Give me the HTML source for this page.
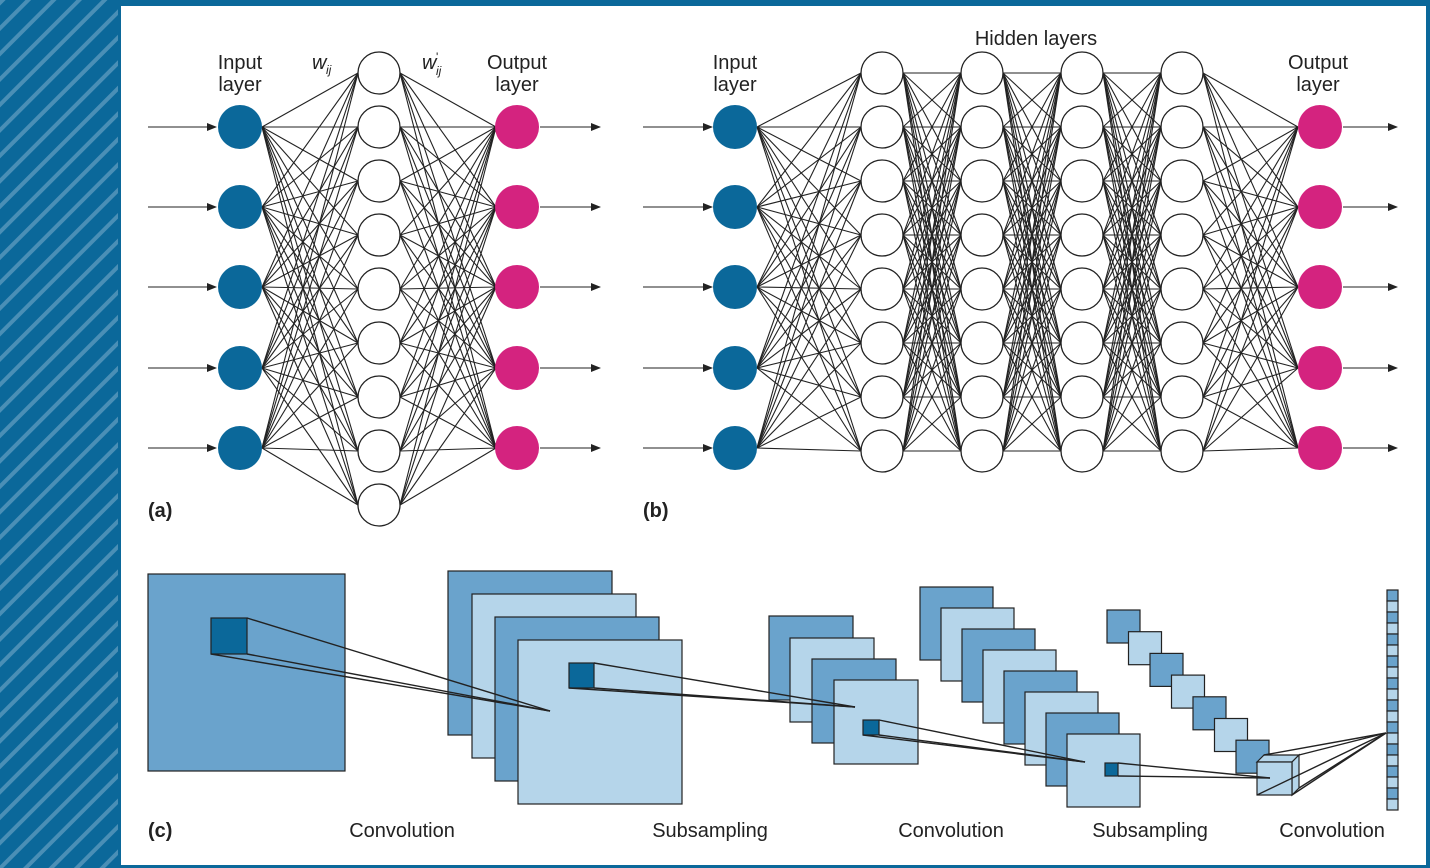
<!DOCTYPE html>
<html><head><meta charset="utf-8"><style>
html,body{margin:0;padding:0;background:#fff;}
svg{display:block;}
text{font-family:"Liberation Sans",sans-serif;fill:#222;}
</style></head><body>
<svg id="s" width="1430" height="868" viewBox="0 0 1430 868" xmlns="http://www.w3.org/2000/svg">
<defs>
<pattern id="st" patternUnits="userSpaceOnUse" width="18" height="18" patternTransform="rotate(45)">
<rect width="18" height="18" fill="#0b689a"/><rect width="4" height="18" fill="#4a8fb6"/>
</pattern>
<marker id="ar" markerWidth="10" markerHeight="8" refX="9" refY="4" orient="auto" markerUnits="userSpaceOnUse"><path d="M0,0 L10,4 L0,8 z" fill="#222"/></marker>
</defs>
<rect x="0" y="0" width="1430" height="868" fill="#0b689a"/>
<rect x="0" y="0" width="118" height="868" fill="url(#st)"/>
<rect x="121" y="6" width="1305" height="859" fill="#fff"/>
<g id="lines" stroke="#222" stroke-width="1.1"></g>
<g id="nodes"></g>
<g id="c"></g>
<g font-size="20">
<text x="240" y="69" text-anchor="middle">Input</text>
<text x="240" y="91" text-anchor="middle">layer</text>
<text x="517" y="69" text-anchor="middle">Output</text>
<text x="517" y="91" text-anchor="middle">layer</text>
<text x="735" y="69" text-anchor="middle">Input</text>
<text x="735" y="91" text-anchor="middle">layer</text>
<text x="1318" y="69" text-anchor="middle">Output</text>
<text x="1318" y="91" text-anchor="middle">layer</text>
<text x="1036" y="45" text-anchor="middle">Hidden layers</text>
<text x="312" y="69" font-style="italic">w</text><text x="326" y="74" font-size="12" font-style="italic">ij</text>
<text x="422" y="69" font-style="italic">w</text><text x="436" y="61" font-size="12">'</text><text x="436" y="75" font-size="12" font-style="italic">ij</text>
<text x="148" y="517" font-weight="bold">(a)</text>
<text x="643" y="517" font-weight="bold">(b)</text>
<text x="148" y="837" font-weight="bold">(c)</text>
<text x="402" y="837" text-anchor="middle">Convolution</text>
<text x="710" y="837" text-anchor="middle">Subsampling</text>
<text x="951" y="837" text-anchor="middle">Convolution</text>
<text x="1150" y="837" text-anchor="middle">Subsampling</text>
<text x="1332" y="837" text-anchor="middle">Convolution</text>
</g>
</svg>
<script>
var NS="http://www.w3.org/2000/svg";
function el(p,t,a){var e=document.createElementNS(NS,t);for(var k in a)e.setAttribute(k,a[k]);p.appendChild(e);return e;}
var L=document.getElementById('lines'),N=document.getElementById('nodes'),C=document.getElementById('c');
var io=[127,207,287,368,448];
var h9=[],h8=[];for(var i=0;i<9;i++)h9.push(73+54*i);for(i=0;i<8;i++)h8.push(73+54*i);
function conn(x1,ys1,x2,ys2){ys1.forEach(function(a){ys2.forEach(function(b){el(L,'line',{x1:x1,y1:a,x2:x2,y2:b});});});}
function col(x,ys,r,f){ys.forEach(function(y){el(N,'circle',{cx:x,cy:y,r:r,fill:f,stroke:f=='#fff'?'#222':'none','stroke-width':1.3});});}
function arrows(x1,x2,ys){ys.forEach(function(y){el(L,'line',{x1:x1,y1:y,x2:x2,y2:y,'marker-end':'url(#ar)'});});}
conn(262,io,358,h9);conn(400,h9,496,io);
arrows(148,216,io);arrows(540,600,io);
col(240,io,22,'#0b689a');col(379,h9,21,'#fff');col(517,io,22,'#d4237f');
conn(757,io,861,h8);conn(903,h8,961,h8);conn(1003,h8,1061,h8);conn(1103,h8,1161,h8);conn(1203,h8,1298,io);
arrows(643,712,io);arrows(1343,1397,io);
col(735,io,22,'#0b689a');[882,982,1082,1182].forEach(function(x){col(x,h8,21,'#fff');});col(1320,io,22,'#d4237f');
var M='#6aa3cc',Lt='#b5d5ea',D='#0b689a';
function sq(x,y,w,h,f){el(C,'rect',{x:x,y:y,width:w,height:h,fill:f,stroke:'#222','stroke-width':1.2});}
function ln(a,b,c,d){el(C,'line',{x1:a,y1:b,x2:c,y2:d,stroke:'#222','stroke-width':1.4});}
sq(148,574,197,197,M);
sq(211,618,36,36,D);
[[448,571,M],[472,594,Lt],[495,617,M],[518,640,Lt]].forEach(function(a){sq(a[0],a[1],164,164,a[2]);});
sq(569,663,25,25,D);
ln(247,618,550,711);ln(247,654,550,711);ln(211,654,550,711);
[[769,616,M],[790,638,Lt],[812,659,M],[834,680,Lt]].forEach(function(a){sq(a[0],a[1],84,84,a[2]);});
sq(863,720,16,15,D);
ln(594,663,855,707);ln(594,688,855,707);ln(569,688,855,707);
for(i=0;i<8;i++)sq(920+21*i,587+21*i,73,73,i%2?Lt:M);
sq(1105,763,13,13,D);
ln(879,720,1085,762);ln(879,735,1085,762);ln(863,735,1085,762);
for(i=0;i<7;i++)sq(1107+21.5*i,610+21.7*i,33,33,i%2?Lt:M);
el(C,'polygon',{points:'1257,762 1264,755 1299,755 1292,762',fill:Lt,stroke:'#222','stroke-width':1.2});
el(C,'polygon',{points:'1292,762 1299,755 1299,788 1292,795',fill:Lt,stroke:'#222','stroke-width':1.2});
sq(1257,762,35,33,Lt);
ln(1118,763,1270,778);ln(1118,776,1270,778);
ln(1264,755,1386,733);ln(1299,755,1386,733);ln(1299,788,1386,733);ln(1257,795,1386,733);ln(1292,795,1386,733);
for(i=0;i<20;i++)sq(1387,590+11*i,11,11,i%2?Lt:M);
</script>
</body></html>
